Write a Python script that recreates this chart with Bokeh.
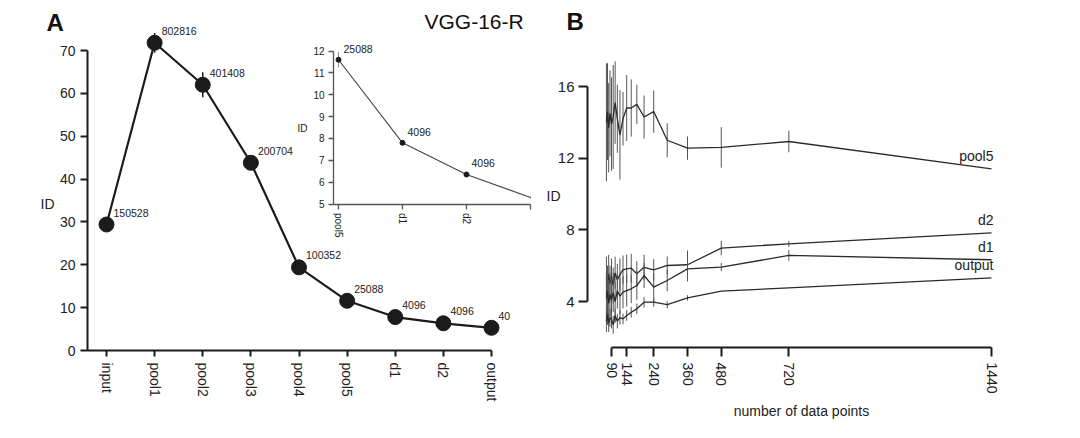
from bokeh.plotting import figure
from bokeh.models import Range1d, LinearAxis, FixedTicker, Label
from bokeh.core.properties import value
from bokeh.embed import file_html
from bokeh.resources import INLINE

FONT = "Liberation Sans"
INK = "#1b1b1b"
TXT = "#222222"

# ---------------- data: panel A ----------------
layers = ["input", "pool1", "pool2", "pool3", "pool4", "pool5", "d1", "d2", "output"]
id_mean = [29.4, 71.8, 62.0, 43.8, 19.4, 11.6, 7.8, 6.35, 5.3]
id_err = [0.4, 2.3, 2.9, 0.8, 0.6, 0.35, 0.08, 0.08, 0.05]
n_units = ["150528", "802816", "401408", "200704", "100352", "25088", "4096", "4096", "40"]
a_yticks = [0, 10, 20, 30, 40, 50, 60, 70]

inset_first = 5  # inset starts at pool5
inset_tick_labels = ["pool5", "d1", "d2", ""]
inset_yticks = [5, 6, 7, 8, 9, 10, 11, 12]

# ---------------- data: panel B ----------------
n_points = [72, 75.8, 80, 84.7, 90, 96, 102.9, 110.8, 120, 130.9,
            144, 160, 180, 205.7, 240, 288, 360, 480, 720, 1440]
b_xticks = [90, 144, 240, 360, 480, 720, 1440]
b_yticks = [4, 8, 12, 16]

pool5_id = [14.0, 14.6, 13.7, 14.5, 13.9, 14.3, 15.1, 14.2, 13.3, 14.2,
            14.8, 14.8, 15.0, 14.3, 14.6, 13.0, 12.56, 12.6, 12.93, 11.4]
pool5_err = [3.3, 2.7, 2.5, 2.4, 2.6, 2.9, 2.3, 1.9, 2.5, 1.5,
             1.84, 1.6, 1.1, 1.2, 1.18, 0.95, 0.65, 1.13, 0.6, 0.0]
d2_id = [5.3, 4.9, 5.5, 5.0, 5.4, 4.9, 5.6, 5.2, 5.5, 5.77,
         5.82, 5.86, 5.55, 5.91, 5.77, 6.01, 6.05, 6.98, 7.22, 7.83]
d2_err = [1.2, 1.1, 1.1, 1.0, 1.0, 1.0, 0.9, 0.9, 0.9, 0.8,
          0.8, 0.8, 0.7, 0.7, 0.6, 0.5, 0.8, 0.4, 0.17, 0.0]
d1_id = [4.2, 4.6, 3.9, 4.4, 4.1, 4.5, 4.0, 4.6, 4.3, 4.52,
         4.61, 4.71, 4.89, 5.45, 4.8, 5.17, 5.82, 5.92, 6.57, 6.33]
d1_err = [1.4, 1.3, 1.3, 1.2, 1.2, 1.1, 1.1, 1.0, 1.0, 0.9,
          0.9, 0.8, 0.8, 0.7, 0.8, 0.6, 0.7, 0.23, 0.3, 0.0]
output_id = [2.9, 3.3, 2.8, 3.1, 3.0, 2.7, 3.2, 2.9, 3.1, 3.03,
             3.22, 3.4, 3.59, 3.96, 3.96, 3.82, 4.2, 4.58, 4.76, 5.32]
output_err = [0.6, 0.6, 0.5, 0.5, 0.5, 0.5, 0.4, 0.4, 0.4, 0.3,
              0.3, 0.3, 0.3, 0.3, 0.25, 0.2, 0.15, 0.0, 0.0, 0.0]
b_series = [("pool5", pool5_id, pool5_err), ("d2", d2_id, d2_err),
            ("d1", d1_id, d1_err), ("output", output_id, output_err)]

W, H = 1072, 430


def pix_map(p0, v0, p1, v1):
    s = (v1 - v0) / (p1 - p0)
    return lambda p: v0 + (p - p0) * s


def style_axis(axis, size="14px", width=2, color=INK, tick_out=6, standoff=5):
    axis.axis_line_width = width
    axis.axis_line_color = color
    axis.major_tick_line_width = width
    axis.major_tick_line_color = color
    axis.major_tick_in = 0
    axis.major_tick_out = tick_out
    axis.minor_tick_line_color = None
    axis.major_label_text_font = FONT
    axis.major_label_text_font_size = size
    axis.major_label_text_color = TXT
    axis.major_label_standoff = standoff
    axis.axis_label_text_font = FONT
    axis.axis_label_text_font_style = "normal"
    axis.axis_label_text_color = TXT


# pixel -> value maps (canvas pixels, frame fills the canvas)
ax = pix_map(106, 0, 491, len(layers) - 1)
ay = pix_map(350, 0, 50, 70)
ix = pix_map(338, 0, 530, 3)
iy = pix_map(203.5, 5, 50.5, 12)
bx = pix_map(611, 90, 991, 1440)
by = pix_map(301, 4, 86, 16)

p = figure(width=W, height=H, output_backend="svg", toolbar_location=None,
           x_range=Range1d(ax(0), ax(W)), y_range=Range1d(ay(H), ay(0)),
           x_axis_location=None, y_axis_location=None)
p.min_border = 0
p.min_border_left = 0
p.min_border_right = 0
p.min_border_top = 0
p.min_border_bottom = 0
p.outline_line_color = None
p.grid.visible = False
p.extra_x_ranges = {"ix": Range1d(ix(0), ix(W)), "bx": Range1d(bx(0), bx(W))}
p.extra_y_ranges = {"iy": Range1d(iy(H), iy(0)), "by": Range1d(by(H), by(0))}

# ================= Panel A =================
xa = LinearAxis(fixed_location=0, ticker=FixedTicker(ticks=list(range(len(layers)))),
                major_label_overrides={i: name for i, name in enumerate(layers)},
                major_label_orientation="vertical", bounds=(ax(87), len(layers) - 1))
style_axis(xa, tick_out=6, standoff=6)
p.add_layout(xa, "below")
ya = LinearAxis(fixed_location=ax(87), ticker=FixedTicker(ticks=a_yticks),
                bounds=(a_yticks[0], a_yticks[-1]))
style_axis(ya, tick_out=7, standoff=5)
p.add_layout(ya, "left")

xs = list(range(len(layers)))
p.segment(x0=xs, y0=[m - e for m, e in zip(id_mean, id_err)],
          x1=xs, y1=[m + e for m, e in zip(id_mean, id_err)],
          line_color=INK, line_width=1.5)
p.line(xs, id_mean, line_color=INK, line_width=2.2)
p.scatter(xs, id_mean, size=15, fill_color=INK, line_color=INK)
p.text(xs, id_mean, text=n_units, x_offset=7, y_offset=-12,
       text_font=value(FONT), text_font_size="10.5px", text_color=TXT,
       text_baseline="middle", text_align="left")

# ---- inset ----
inset_vals = id_mean[inset_first:]
inset_errs = id_err[inset_first:]
inset_labels = n_units[inset_first:]
ixs = list(range(len(inset_vals)))

iax_y = LinearAxis(x_range_name="ix", y_range_name="iy", fixed_location=ix(333),
                   ticker=FixedTicker(ticks=inset_yticks),
                   bounds=(inset_yticks[0], inset_yticks[-1]))
style_axis(iax_y, size="10px", width=1.3, color="#555555", tick_out=5, standoff=4)
p.add_layout(iax_y, "left")
iax_x = LinearAxis(x_range_name="ix", y_range_name="iy", fixed_location=inset_yticks[0],
                   ticker=FixedTicker(ticks=ixs),
                   major_label_overrides={i: t for i, t in enumerate(inset_tick_labels)},
                   major_label_orientation="vertical",
                   bounds=(ix(333), ixs[-1]))
style_axis(iax_x, size="10px", width=1.3, color="#555555", tick_out=5, standoff=4)
p.add_layout(iax_x, "below")

p.segment(x0=ixs, y0=[m - e for m, e in zip(inset_vals, inset_errs)],
          x1=ixs, y1=[m + e for m, e in zip(inset_vals, inset_errs)],
          line_color="#888888", line_width=1, x_range_name="ix", y_range_name="iy")
p.line(ixs, inset_vals, line_color="#444444", line_width=1.1,
       x_range_name="ix", y_range_name="iy")
p.scatter(ixs[:3], inset_vals[:3], size=5, fill_color=INK, line_color=INK,
          x_range_name="ix", y_range_name="iy")
p.text(ixs[:3], inset_vals[:3], text=inset_labels[:3], x_offset=5, y_offset=-11,
       text_font=value(FONT), text_font_size="10.5px", text_color=TXT,
       text_baseline="middle", text_align="left", x_range_name="ix", y_range_name="iy")

p.add_layout(Label(x=ax(46), y=ay(22), text="A", text_font=FONT, text_font_size="24px",
                   text_font_style="bold", text_color="#111111", text_baseline="middle"))
p.add_layout(Label(x=ax(424), y=ay(21), text="VGG-16-R", text_font=FONT,
                   text_font_size="21px", text_color="#111111", text_baseline="middle"))
p.add_layout(Label(x=ax(40), y=ay(203), text="ID", text_font=FONT, text_font_size="14px",
                   text_color=TXT, text_baseline="middle"))
p.add_layout(Label(x=ix(297), y=iy(128), text="ID", text_font=FONT, text_font_size="10px",
                   text_color=TXT, text_baseline="middle",
                   x_range_name="ix", y_range_name="iy"))

# ================= Panel B =================
xb = LinearAxis(x_range_name="bx", y_range_name="by", fixed_location=by(347),
                ticker=FixedTicker(ticks=b_xticks), bounds=(b_xticks[0], b_xticks[-1]),
                major_label_orientation="vertical", axis_label="number of data points")
style_axis(xb, tick_out=9, standoff=6)
xb.axis_label_text_font_size = "14px"
xb.axis_label_standoff = 6
p.add_layout(xb, "below")
yb = LinearAxis(x_range_name="bx", y_range_name="by", fixed_location=bx(587),
                ticker=FixedTicker(ticks=b_yticks), bounds=(b_yticks[0], b_yticks[-1]))
style_axis(yb, size="15px", tick_out=9, standoff=4)
p.add_layout(yb, "left")

for name, vals, errs in b_series:
    p.segment(x0=n_points, y0=[m - e for m, e in zip(vals, errs)],
              x1=n_points, y1=[m + e for m, e in zip(vals, errs)],
              line_color="#555555", line_width=1, x_range_name="bx", y_range_name="by")
    p.line(n_points, vals, line_color="#2a2a2a", line_width=1.3,
           x_range_name="bx", y_range_name="by")

p.text([n_points[-1]] * len(b_series), [s[1][-1] for s in b_series],
       text=[s[0] for s in b_series], x_offset=2, y_offset=-5,
       text_font=value(FONT), text_font_size="14px", text_color=TXT,
       text_align="right", text_baseline="bottom", x_range_name="bx", y_range_name="by")

p.add_layout(Label(x=bx(566), y=by(21), text="B", text_font=FONT, text_font_size="24px",
                   text_font_style="bold", text_color="#111111", text_baseline="middle",
                   x_range_name="bx", y_range_name="by"))
p.add_layout(Label(x=bx(546), y=by(195), text="ID", text_font=FONT, text_font_size="14px",
                   text_color=TXT, text_baseline="middle",
                   x_range_name="bx", y_range_name="by"))

open("out.html", "w").write(file_html(p, INLINE))
